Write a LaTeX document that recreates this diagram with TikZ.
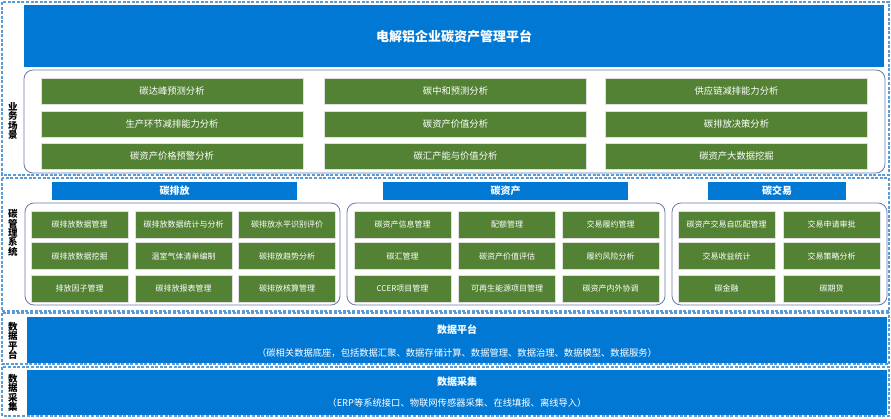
\documentclass[tikz,border=0pt]{standalone}
\usepackage{fontspec}
\setmainfont{Noto Sans CJK SC}

\definecolor{platblue}{RGB}{0,120,212}
\definecolor{itemgreen}{RGB}{84,130,53}
\definecolor{layerdash}{RGB}{91,155,213}
\definecolor{panelline}{RGB}{105,122,168}

\begin{document}
\begin{tikzpicture}[x=1pt, y=-1pt]

% --- Global TikZ Styles for Consistency ---
\tikzset{
    layer/.style={draw=layerdash, line width=1.3pt, dash pattern=on 3pt off 1.6pt},
    panel/.style={draw=panelline, line width=0.8pt, rounded corners=9pt, fill=white},
    bluebar/.style={fill=platblue, text=white, inner sep=0pt,
        font=\bfseries\fontsize{10}{12}\selectfont},
    item/.style={fill=itemgreen, draw=black!12, line width=0.6pt, text=white, inner sep=0pt},
    scenario/.style={item, minimum width=262pt, minimum height=26pt,
        font=\fontsize{9.3}{11}\selectfont},
    module/.style={item, minimum width=97pt, minimum height=27pt,
        font=\fontsize{8}{10}\selectfont},
    sidelabel/.style={align=center, inner sep=0pt,
        font=\bfseries\fontsize{9.5}{9.4}\selectfont},
    subline/.style={text=white, font=\fontsize{9.3}{11}\selectfont}
}

\useasboundingbox (0,0) rectangle (891,418);

% Layers (dashed frames)
\draw[layer] (2,2) rectangle (889,175);
\draw[layer] (2,178) rectangle (889,311);
\draw[layer] (2,313) rectangle (889,364);
\draw[layer] (2,367) rectangle (889,416);

% Side labels
\node[sidelabel] (lscene) at (13,121) {业\\务\\场\\景};
\node[sidelabel] (lmgmt)  at (13,233) {碳\\管\\理\\系\\统};
\node[sidelabel] (lplat)  at (13,341) {数\\据\\平\\台};
\node[sidelabel] (lcoll)  at (13,393) {数\\据\\采\\集};

% Platform title
\node[bluebar, minimum width=860pt, minimum height=62pt,
      font=\bfseries\fontsize{13}{15}\selectfont] (title) at (454,36) {电解铝企业碳资产管理平台};

% Business scenarios
\draw[panel] (24,70) rectangle (885,173);
\node[scenario] (sc1) at (172,91)    {碳达峰预测分析};
\node[scenario] (sc2) at (172,124)   {生产环节减排能力分析};
\node[scenario] (sc3) at (172,156)   {碳资产价格预警分析};
\node[scenario] (sc4) at (455.5,91)  {碳中和预测分析};
\node[scenario] (sc5) at (455.5,124) {碳资产价值分析};
\node[scenario] (sc6) at (455.5,156) {碳汇产能与价值分析};
\node[scenario] (sc7) at (736.5,91)  {供应链减排能力分析};
\node[scenario] (sc8) at (736.5,124) {碳排放决策分析};
\node[scenario] (sc9) at (736.5,156) {碳资产大数据挖掘};

% Carbon emission module
\node[bluebar, minimum width=245pt, minimum height=18pt] (hem) at (174.5,191) {碳排放};
\draw[panel] (25,203) rectangle (340,305);
\node[module] (em1) at (79.5,224.5) {碳排放数据管理};
\node[module] (em2) at (183.5,224.5) {碳排放数据统计与分析};
\node[module] (em3) at (287,224.5) {碳排放水平识别评价};
\node[module] (em4) at (79.5,256) {碳排放数据挖掘};
\node[module] (em5) at (183.5,256) {温室气体清单编制};
\node[module] (em6) at (287,256) {碳排放趋势分析};
\node[module] (em7) at (79.5,288.5) {排放因子管理};
\node[module] (em8) at (183.5,288.5) {碳排放报表管理};
\node[module] (em9) at (287,288.5) {碳排放核算管理};

% Carbon asset module
\node[bluebar, minimum width=245pt, minimum height=18pt] (has) at (505.5,191) {碳资产};
\draw[panel] (347,203) rectangle (665,305);
\node[module] (as1) at (402.5,224.5) {碳资产信息管理};
\node[module] (as2) at (507,224.5) {配额管理};
\node[module] (as3) at (610.5,224.5) {交易履约管理};
\node[module] (as4) at (402.5,256) {碳汇管理};
\node[module] (as5) at (507,256) {碳资产价值评估};
\node[module] (as6) at (610.5,256) {履约风险分析};
\node[module] (as7) at (402.5,288.5) {CCER项目管理};
\node[module] (as8) at (507,288.5) {可再生能源项目管理};
\node[module] (as9) at (610.5,288.5) {碳资产内外协调};

% Carbon trading module
\node[bluebar, minimum width=138pt, minimum height=18pt] (htr) at (777,191) {碳交易};
\draw[panel] (672,203) rectangle (887,305);
\node[module] (tr1) at (726.5,224.5) {碳资产交易自匹配管理};
\node[module] (tr2) at (831.5,224.5) {交易申请审批};
\node[module] (tr3) at (726.5,256) {交易收益统计};
\node[module] (tr4) at (831.5,256) {交易策略分析};
\node[module] (tr5) at (726.5,288.5) {碳金融};
\node[module] (tr6) at (831.5,288.5) {碳期货};

% Data platform
\node[bluebar, minimum width=860pt, minimum height=46pt] (plat) at (457,340) {};
\node[bluebar, fill=none] (platname) at (457,330) {数据平台};
\node[subline] (platnote) at (457,353)
    {（碳相关数据底座，包括数据汇聚、数据存储计算、数据管理、数据治理、数据模型、数据服务）};

% Data collection
\node[bluebar, minimum width=860pt, minimum height=45pt] (coll) at (457,392.5) {};
\node[bluebar, fill=none] (collname) at (457,382) {数据采集};
\node[subline] (collnote) at (457,403)
    {（ERP等系统接口、物联网传感器采集、在线填报、离线导入）};

\end{tikzpicture}
\end{document}
